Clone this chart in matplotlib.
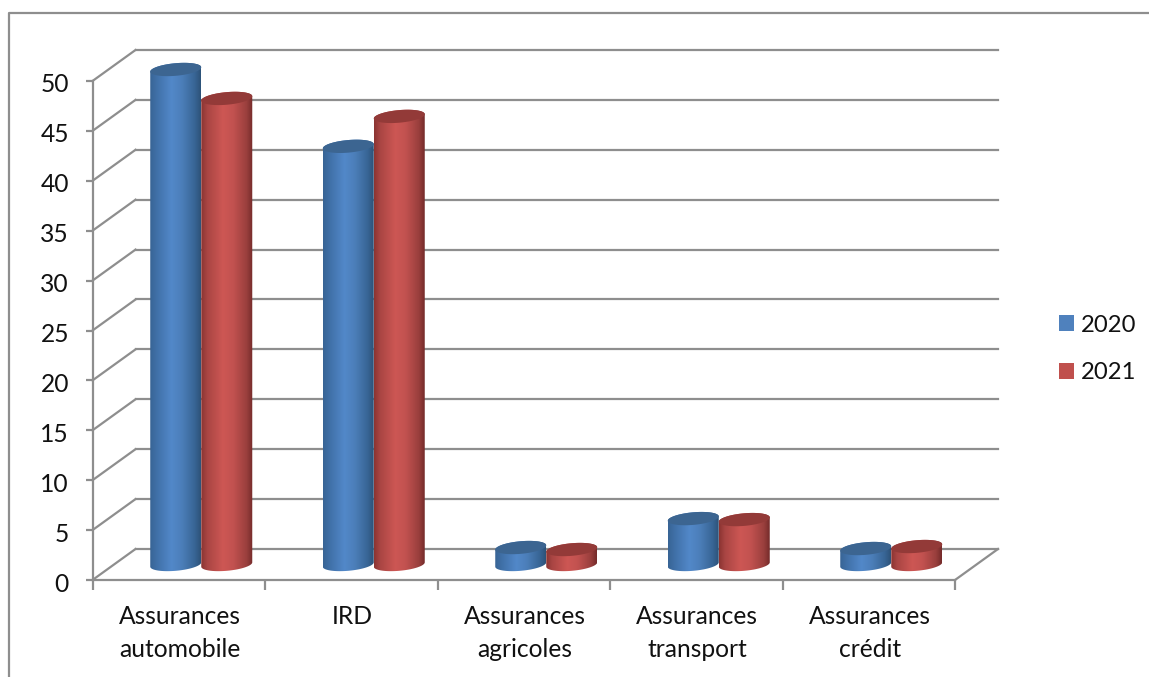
import numpy as np
import matplotlib
matplotlib.use('Agg')
import matplotlib.pyplot as plt
from matplotlib.colors import LinearSegmentedColormap
from matplotlib.patches import Patch, Polygon
from matplotlib.transforms import ScaledTranslation

plt.rcParams['font.family'] = ['Lato', 'DejaVu Sans']

categories = ['Assurances\nautomobile', 'IRD', 'Assurances\nagricoles',
              'Assurances\ntransport', 'Assurances\ncrédit']
valeurs_2020 = [49.6, 41.9, 1.7, 4.6, 1.6]
valeurs_2021 = [46.7, 44.9, 1.5, 4.5, 1.8]
annees = ['2020', '2021']
graduations = list(range(0, 55, 5))

W, H = 1149, 677
GRIS = '#8e8e8e'
TEXTE = '#111111'

fig = plt.figure(figsize=(W / 100, H / 100), dpi=100)

# Cadre du graphique, coupe par le bord de l'image a droite et en bas
fig.add_artist(plt.Line2D([8.5 / W, 8.5 / W, 1], [0, 1 - 13 / H, 1 - 13 / H],
                          color=GRIS, lw=1.6))

# Plan avant du repere : x en categories, y en valeurs
x0, x1, y0, y50 = 92.5, 955, 580, 81
ax = fig.add_axes([x0 / W, 1 - y0 / H, (x1 - x0) / W, (y0 - y50) / H])
ax.set_xlim(0, 5)
ax.set_ylim(0, 50)
ax.set_autoscale_on(False)
ax.patch.set_alpha(0)

px_x = 5 / (x1 - x0)
px_y = 50 / (y0 - y50)
prof_x = 43 * px_x
prof_y = 31 * px_y

# Quadrillage : murs gauche et arriere, plancher
for v in graduations:
    ax.plot([0, prof_x], [v, v + prof_y], color=GRIS, lw=1.6, clip_on=False, zorder=1)
    ax.plot([prof_x, 5 + prof_x], [v + prof_y, v + prof_y], color=GRIS, lw=1.6,
            clip_on=False, zorder=1)
ax.plot([5, 5 + prof_x], [0, prof_y], color=GRIS, lw=1.6, clip_on=False, zorder=1)

# Cylindres
bleu = LinearSegmentedColormap.from_list('bleu', [
    (0, '#386494'), (0.12, '#3f6fa6'), (0.42, '#5288c9'), (0.62, '#4c7fba'),
    (0.88, '#386595'), (1, '#2d5278')])
rouge = LinearSegmentedColormap.from_list('rouge', [
    (0, '#8a3432'), (0.12, '#a94543'), (0.42, '#cd5754'), (0.62, '#c25250'),
    (0.88, '#9a3f3d'), (1, '#742b2a')])
degrade = np.linspace(0, 1, 256).reshape(1, -1)

largeur = 51 * px_x
a = largeur / 2
b = 6.3 * px_y
pente = 0.085 * (px_y / px_x)


def ellipse(cx, cy, t):
    dx = a * np.cos(t)
    return cx + dx, cy + b * np.sin(t) + pente * dx


def cylindre(cx, valeur, cmap, couleur_haut, z):
    base = prof_y / 2
    t_bas = np.linspace(np.pi, 2 * np.pi, 60)
    t_haut = np.linspace(0, np.pi, 60)
    xb, yb = ellipse(cx, base, t_bas)
    xh, yh = ellipse(cx, base + valeur, t_haut)
    cote = Polygon(np.column_stack([np.r_[xb, xh], np.r_[yb, yh]]), closed=True,
                   transform=ax.transData, facecolor='none', edgecolor='none',
                   clip_on=False)
    ax.add_patch(cote)
    im = ax.imshow(degrade, cmap=cmap, aspect='auto', zorder=z,
                   extent=[cx - a, cx + a, base - 2 * b, base + valeur + 2 * b])
    im.set_clip_box(fig.bbox)
    im.set_clip_path(cote)
    t = np.linspace(0, 2 * np.pi, 120)
    xe, ye = ellipse(cx, base + valeur, t)
    ax.fill(xe, ye, color=couleur_haut, lw=0, zorder=z + 0.1, clip_on=False)


centres = np.arange(len(categories)) + 0.5 + prof_x / 2 + 1 * px_x
for i, c in enumerate(centres):
    cylindre(c - a, valeurs_2020[i], bleu, '#3c6591', 2 + i)
    cylindre(c + a, valeurs_2021[i], rouge, '#933a38', 2.5 + i)

# Axes et etiquettes
for nom in ['top', 'right']:
    ax.spines[nom].set_visible(False)
for nom in ['left', 'bottom']:
    ax.spines[nom].set_color(GRIS)
    ax.spines[nom].set_linewidth(1.6)
    ax.spines[nom].set_zorder(1)

ax.set_yticks(graduations)
ax.set_yticklabels([str(v) for v in graduations], fontsize=17.7, color=TEXTE, va='center')
ax.tick_params(axis='y', length=5, width=1.6, color=GRIS, pad=12)
ax.set_xticks(np.arange(6))
ax.set_xticklabels([])
ax.tick_params(axis='x', which='major', length=7.5, width=1.6, color=GRIS)
ax.set_xticks(np.arange(5) + 0.5, minor=True)
ax.set_xticklabels(categories, minor=True, fontsize=17.7, color=TEXTE, linespacing=1.55)
ax.tick_params(axis='x', which='minor', length=0, pad=18)

# Les chiffres de l'axe sont un peu plus bas que leur graduation
decalage = ScaledTranslation(0, -4 / 100, fig.dpi_scale_trans)
for lab in ax.get_yticklabels():
    lab.set_transform(lab.get_transform() + decalage)
decalage_x = ScaledTranslation(1 / 100, 0, fig.dpi_scale_trans)
for lab in ax.get_xticklabels(minor=True):
    lab.set_transform(lab.get_transform() + decalage_x)

poignees = [Patch(facecolor='#4f81bd', edgecolor='none'),
            Patch(facecolor='#c0504d', edgecolor='none')]
fig.legend(poignees, annees, loc='center left',
           bbox_to_anchor=(1059 / W, 1 - 349 / H), frameon=False, fontsize=17.2,
           labelcolor=TEXTE, handlelength=0.63, handleheight=0.63, handletextpad=0.29,
           labelspacing=1.12, borderpad=0, borderaxespad=0)

fig.savefig('out.png', dpi=100, facecolor='white')
